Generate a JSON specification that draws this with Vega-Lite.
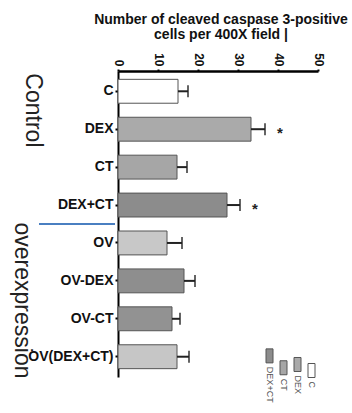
{
  "$schema": "https://vega.github.io/schema/vega-lite/v6.json",
  "autosize": "none",
  "width": 200,
  "height": 306,
  "padding": {"left": 118, "top": 71, "right": 34, "bottom": 36},
  "background": "white",
  "config": {"view": {"stroke": null}, "font": "Liberation Sans", "axisX": {"labelOverlap": false, "tickCount": 6}},
  "title": {
    "text": ["Number of cleaved caspase 3-positive", "cells per 400X field |"],
    "fontSize": 14,
    "fontWeight": "bold",
    "font": "Liberation Sans",
    "color": "#111111",
    "anchor": "middle",
    "offset": 11,
    "lineHeight": 15,
    "dx": 3
  },
  "layer": [
    {
      "data": {
        "values": [
          {"group": "C", "mean": 15.0, "upper": 17.5, "sig": ""},
          {"group": "DEX", "mean": 33.25, "upper": 36.75, "sig": "*"},
          {"group": "CT", "mean": 14.75, "upper": 17.25, "sig": ""},
          {"group": "DEX+CT", "mean": 27.25, "upper": 30.5, "sig": "*"},
          {"group": "OV", "mean": 12.25, "upper": 16.0, "sig": ""},
          {"group": "OV-DEX", "mean": 16.5, "upper": 19.25, "sig": ""},
          {"group": "OV-CT", "mean": 13.5, "upper": 15.5, "sig": ""},
          {"group": "OV(DEX+CT)", "mean": 14.75, "upper": 17.75, "sig": ""}
        ]
      },
      "layer": [
        {
          "mark": {"type": "bar", "stroke": "#555555", "strokeWidth": 1},
          "encoding": {
            "y": {
              "field": "group",
              "type": "nominal",
              "sort": null,
              "scale": {"paddingInner": 0.37, "paddingOuter": 0.22},
              "axis": {
                "title": null,
                "labelFontSize": 14,
                "labelFontWeight": "bold",
                "labelColor": "#111111",
                "labelFont": "Liberation Sans",
                "domainColor": "#000000",
                "domainWidth": 2,
                "tickColor": "#000000",
                "tickSize": 3,
                "tickWidth": 2,
                "labelPadding": 2
              }
            },
            "x": {
              "field": "mean",
              "type": "quantitative",
              "scale": {"domain": [0, 50], "nice": false},
              "axis": {
                "orient": "top",
                "title": null,
                "values": [0, 10, 20, 30, 40, 50],
                "tickCount": 6,
                "grid": false,
                "labelOverlap": false,
                "labelAngle": 90,
                "labelAlign": "right",
                "labelBaseline": "middle",
                "labelFontSize": 12,
                "labelFontWeight": "bold",
                "labelColor": "#111111",
                "labelPadding": 3,
                "domainColor": "#000000",
                "domainWidth": 2.5,
                "tickColor": "#000000",
                "tickSize": 2,
                "tickWidth": 2
              }
            },
            "fill": {
              "field": "group",
              "type": "nominal",
              "scale": {
                "domain": ["C", "DEX", "CT", "DEX+CT", "OV", "OV-DEX", "OV-CT", "OV(DEX+CT)"],
                "range": ["#ffffff", "#aaaaaa", "#a6a6a6", "#8c8c8c", "#c8c8c8", "#8e8e8e", "#929292", "#c6c6c6"]
              },
              "legend": {
                "values": ["DEX+CT", "CT", "DEX", "C"],
                "orient": "none",
                "legendX": 144,
                "legendY": 277,
                "direction": "horizontal",
                "title": null,
                "symbolType": "M-0.5,-1H0.5V1H-0.5Z",
                "symbolSize": 196,
                "symbolStrokeColor": "#555555",
                "symbolStrokeWidth": 1,
                "labelFontSize": 9,
                "labelColor": "#555555",
                "labelOffset": 0,
                "columnPadding": 1,
                "padding": 0,
                "encode": {
                  "labels": {
                    "update": {
                      "angle": {"value": 90},
                      "dx": {"value": 11},
                      "dy": {"value": 7},
                      "align": {"value": "left"},
                      "baseline": {"value": "middle"}
                    }
                  }
                }
              }
            }
          }
        },
        {
          "mark": {"type": "rule", "color": "#222222", "strokeWidth": 2},
          "encoding": {
            "y": {"field": "group", "type": "nominal", "sort": null},
            "x": {"field": "mean", "type": "quantitative"},
            "x2": {"field": "upper"}
          }
        },
        {
          "mark": {"type": "tick", "orient": "vertical", "color": "#222222", "thickness": 2, "size": 12},
          "encoding": {
            "y": {"field": "group", "type": "nominal", "sort": null},
            "x": {"field": "upper", "type": "quantitative"}
          }
        },
        {
          "mark": {"type": "text", "dx": 15, "dy": 4, "fontSize": 15, "fontWeight": "bold", "color": "#222222"},
          "encoding": {
            "y": {"field": "group", "type": "nominal", "sort": null},
            "x": {"field": "upper", "type": "quantitative"},
            "text": {"field": "sig"}
          }
        }
      ]
    },
    {
      "data": {"values": [{"section": "overexpression"}]},
      "mark": {"type": "rule", "color": "#4a7fc1", "strokeWidth": 2},
      "encoding": {
        "y": {
          "field": "section",
          "type": "nominal",
          "bandPosition": 0,
          "scale": {"domain": ["Control", "overexpression"], "paddingInner": 0, "paddingOuter": 0},
          "axis": {
            "orient": "left",
            "offset": 86,
            "title": null,
            "domain": false,
            "ticks": false,
            "tickSize": 0,
            "labelPadding": 0,
            "labelAngle": 90,
            "labelFontSize": 23,
            "labelFont": "Liberation Sans",
            "labelColor": "#222222",
            "labelAlign": {"condition": {"test": "datum.value === 'Control'", "value": "right"}, "value": "center"},
            "labelBaseline": {"condition": {"test": "datum.value === 'Control'", "value": "middle"}, "value": "top"}
          }
        },
        "x": {"datum": -19.75, "type": "quantitative"},
        "x2": {"datum": -0.75}
      }
    }
  ],
  "resolve": {"scale": {"y": "independent"}, "axis": {"y": "independent"}}
}
